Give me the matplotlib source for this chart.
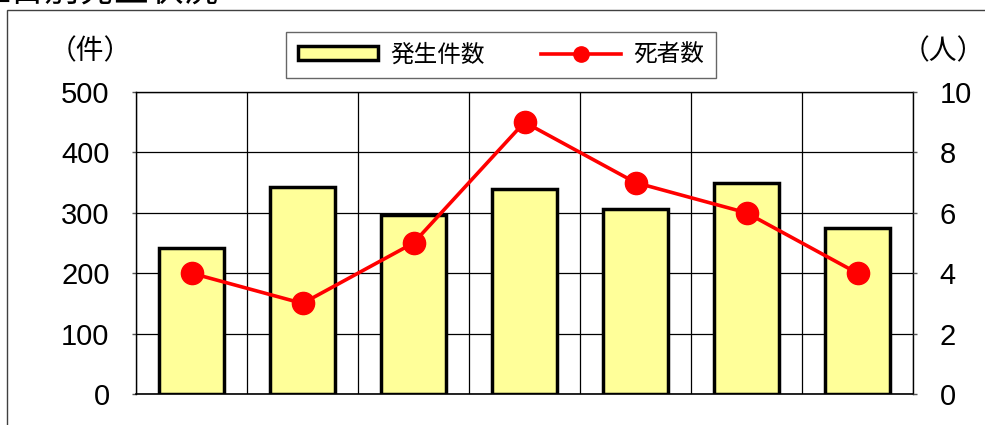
import matplotlib
matplotlib.use("Agg")
import matplotlib.pyplot as plt
from matplotlib.patches import Rectangle
from matplotlib.lines import Line2D
import numpy as np

plt.rcParams['font.family'] = ['Noto Sans CJK JP', 'DejaVu Sans']

title = "曜日別発生状況"
categories = ["日", "月", "火", "水", "木", "金", "土"]
incidents = [242, 342, 297, 339, 306, 349, 275]
deaths = [4, 3, 5, 9, 7, 6, 4]
left_ticks = [0, 100, 200, 300, 400, 500]
right_ticks = [0, 2, 4, 6, 8, 10]
left_unit = "（件）"
right_unit = "（人）"
bar_label = "発生件数"
line_label = "死者数"

W, H = 985, 425
fig = plt.figure(figsize=(W / 100, H / 100), dpi=100)

# outer chart frame (extends beyond right/bottom edge)
fig.patches.append(Rectangle((7 / W, -0.1), 1.2, 1 - 10 / H + 0.1,
                             transform=fig.transFigure, fill=False,
                             edgecolor="#404040", linewidth=1.0))

# cut-off title
fig.text(-25 / W, 1 - 9 / H, title, fontsize=25, va="bottom", ha="left",
         color="black")

ax = fig.add_axes([136 / W, 1 - 394 / H, (913 - 136) / W, (394 - 92) / H])
x = np.arange(len(categories))
ax.bar(x, incidents, width=0.59, color="#FFFF99", edgecolor="black",
       linewidth=2.5, zorder=3)
ax.set_xlim(-0.5, len(categories) - 0.5)
ax.set_ylim(0, 500)
ax.set_yticks(left_ticks)
ax.set_xticks([])
ax.set_xticks(np.arange(len(categories) + 1) - 0.5, minor=True)
ax.tick_params(axis="x", which="both", length=0, labelbottom=False)
ax.grid(axis="x", which="minor", color="black", linewidth=0.9, zorder=1)
ax.grid(axis="y", which="major", color="black", linewidth=0.9, zorder=1)
ax.tick_params(axis="y", length=3, width=1, pad=16, labelsize=21,
               color="#555555")
for lab in ax.get_yticklabels():
    lab.set_fontfamily(["Liberation Sans", "DejaVu Sans"])
for s in ax.spines.values():
    s.set_color("black")
    s.set_linewidth(1.0)
ax.spines["bottom"].set_linewidth(1.2)

ax2 = ax.twinx()
ax2.plot(x, deaths, color="#FF0000", linewidth=2.6, marker="o",
         markersize=16, zorder=5)
ax2.set_ylim(0, 10)
ax2.set_yticks(right_ticks)
ax2.tick_params(axis="y", length=3, width=1, pad=16, labelsize=21,
                color="#555555")
for lab in ax2.get_yticklabels():
    lab.set_fontfamily(["Liberation Sans", "DejaVu Sans"])
for s in ax2.spines.values():
    s.set_visible(False)

fig.text(90 / W, 1 - 51 / H, left_unit, fontsize=20, ha="center", va="center")
fig.text(943 / W, 1 - 51 / H, right_unit, fontsize=20, ha="center", va="center")

handles = [Rectangle((0, 0), 1, 1, facecolor="#FFFF99", edgecolor="black",
                     linewidth=2.5),
           Line2D([0], [0], color="#FF0000", linewidth=2.6, marker="o",
                  markersize=11)]
leg = fig.legend(handles, [bar_label, line_label], loc="center",
                 bbox_to_anchor=(501 / W, 1 - 55 / H), ncol=2, fontsize=17,
                 frameon=True, fancybox=False, edgecolor="#404040",
                 handlelength=3.4, handleheight=0.5, handletextpad=0.5,
                 columnspacing=2.4, borderpad=0.5)
leg.get_frame().set_linewidth(1.0)

fig.savefig("out.png", dpi=100)
